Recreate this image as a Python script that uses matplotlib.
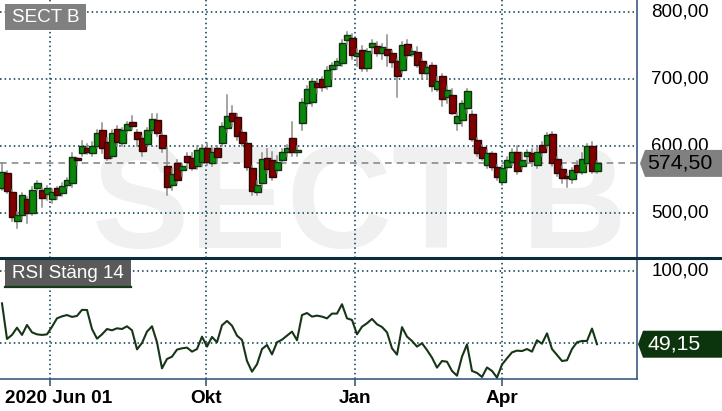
import matplotlib
matplotlib.use("Agg")
import matplotlib.pyplot as plt
from matplotlib.patches import Rectangle, Polygon
from matplotlib.lines import Line2D
from matplotlib.transforms import IdentityTransform, ScaledTranslation, blended_transform_factory

plt.rcParams["font.family"] = ["Liberation Sans", "DejaVu Sans"]

# kursdata (läst ur bilden)
opens = [538, 560, 532, 488, 497, 521, 500, 538, 535, 529, 521, 538, 530, 542, 545, 582, 590, 597, 590, 600,
         624, 606, 585, 626, 605, 624, 637, 621, 612, 604, 624, 640, 617, 571, 542, 575, 564, 586, 583, 571,
         577, 598, 575, 597, 605, 627, 650, 644, 621, 605, 568, 532, 545, 583, 580, 565, 580, 591, 613, 591,
         635, 664, 666, 694, 700, 690, 715, 721, 725, 758, 761, 735, 744, 717, 748, 750, 740, 745, 739, 727,
         714, 752, 738, 741, 727, 709, 721, 686, 705, 673, 677, 635, 639, 657, 648, 609, 599, 572, 590, 569,
         546, 569, 577, 592, 570, 585, 590, 572, 602, 602, 619, 581, 566, 555, 551, 572, 562, 575, 601, 563]
closes = [561, 533, 495, 498, 528, 500, 535, 545, 523, 538, 532, 528, 541, 550, 584, 580, 600, 591, 600, 620,
          597, 583, 620, 606, 624, 633, 630, 611, 593, 624, 641, 620, 597, 540, 558, 550, 571, 577, 568, 594,
          598, 577, 592, 584, 631, 645, 638, 615, 605, 569, 533, 542, 581, 566, 554, 577, 591, 598, 591, 595,
          666, 685, 697, 689, 688, 714, 721, 727, 754, 766, 736, 739, 717, 742, 754, 740, 748, 737, 726, 705,
          751, 736, 742, 721, 709, 719, 690, 697, 671, 684, 650, 646, 665, 683, 611, 590, 583, 590, 569, 554,
          568, 580, 592, 563, 580, 591, 578, 592, 592, 617, 575, 560, 552, 553, 564, 562, 581, 601, 563, 574.5]
highs = [575, 563, 535, 502, 531, 525, 540, 548, 538, 541, 536, 540, 545, 553, 590, 583, 608, 603, 606, 624,
         635, 612, 625, 630, 628, 636, 646, 625, 615, 628, 648, 648, 620, 597, 566, 580, 574, 590, 590, 600,
         602, 605, 598, 600, 635, 676, 660, 648, 625, 607, 570, 548, 590, 596, 592, 585, 596, 602, 636, 600,
         670, 690, 700, 698, 704, 718, 725, 730, 758, 770, 768, 746, 750, 746, 758, 755, 752, 766, 742, 730,
         755, 758, 745, 748, 730, 722, 725, 704, 708, 690, 685, 650, 668, 686, 652, 612, 602, 594, 592, 572,
         571, 584, 596, 600, 590, 594, 596, 597, 606, 620, 621, 584, 570, 558, 568, 578, 590, 604, 606, 578]
lows = [535, 530, 488, 478, 492, 485, 497, 535, 510, 520, 515, 522, 526, 538, 540, 572, 585, 588, 585, 597,
        590, 580, 582, 600, 600, 620, 626, 600, 585, 600, 620, 615, 592, 528, 535, 545, 556, 568, 565, 566,
        570, 572, 570, 575, 600, 622, 630, 610, 600, 565, 528, 528, 540, 560, 550, 560, 576, 586, 585, 585,
        624, 660, 660, 680, 682, 686, 700, 716, 720, 752, 730, 720, 712, 712, 740, 735, 730, 720, 718, 673,
        710, 732, 735, 718, 700, 700, 683, 682, 660, 665, 648, 625, 630, 650, 608, 585, 580, 568, 565, 550,
        543, 565, 572, 558, 566, 575, 570, 568, 585, 598, 570, 555, 545, 540, 545, 558, 558, 572, 560, 560]
rsi = [77.5, 52.8, 55.6, 60.6, 55.6, 62.5, 57.4, 56.0, 55.6, 56.0, 61.3, 67.1, 68.5, 69.4, 68.1, 68.8, 73.0, 72.9,
       59.7, 53.0, 56.0, 59.7, 58.8, 60.2, 59.7, 61.6, 58.8, 45.6, 50.0, 57.9, 61.6, 50.5, 32.4, 38.9, 40.5, 45.4,
       46.3, 46.8, 44.0, 45.8, 54.4, 47.5, 54.2, 50.5, 62.3, 65.3, 62.0, 55.1, 52.1, 37.5, 30.1, 35.2, 45.8, 48.6,
       42.1, 50.5, 52.3, 55.1, 57.9, 51.9, 69.4, 70.8, 68.3, 69.0, 68.3, 67.1, 70.4, 70.4, 76.9, 67.1, 66.0, 56.0,
       61.3, 63.7, 66.7, 63.0, 61.1, 57.4, 46.3, 41.9, 61.0, 54.4, 51.4, 47.5, 49.8, 45.1, 39.8, 32.9, 37.5, 37.0,
       30.6, 27.3, 40.5, 49.0, 30.6, 29.2, 26.4, 33.0, 30.6, 26.0, 35.0, 39.4, 43.5, 44.7, 44.4, 45.8, 44.0, 51.9,
       49.5, 56.7, 45.8, 41.7, 37.5, 38.0, 45.8, 50.5, 51.4, 51.4, 60.0, 49.15]

date_ticks = [9.66, 40.86, 70.66, 100.06]
date_labels = ["2020 Jun 01", "Okt", "Jan", "Apr"]
price_levels = [500, 600, 700, 800]
rsi_levels = [50, 100]
last_price = closes[-1]
last_rsi = rsi[-1]

W, H = 722, 411
fig = plt.figure(figsize=(W / 100, H / 100), dpi=100)
fig.patch.set_facecolor("white")

ax = fig.add_axes([0, 1 - 258 / H, 637 / W, 258 / H])
ax2 = fig.add_axes([0, 1 - 379 / H, 637 / W, 121 / H])

grid_kw = dict(color="#00384d", lw=1.1, ls=(0, (1, 2)), zorder=1)
spine_col = "#3a5a80"

for a in (ax, ax2):
    a.set_xlim(-0.4, 127)
    for t in date_ticks:
        a.axvline(t, **grid_kw)
    for s in ("left", "top"):
        a.spines[s].set_visible(False)
    a.spines["right"].set_color(spine_col)
    a.spines["right"].set_linewidth(1.2)
    a.set_yticks([])

# pris
ax.set_ylim(433.3, 818.4)
ax.spines["bottom"].set_visible(False)
ax.set_xticks([])
for v in price_levels:
    ax.axhline(v, **grid_kw)
ax.axhline(last_price, color="#8a8a8a", lw=1.2, ls=(0, (4, 3)), zorder=1.5)

ax.text(359, H - 248, "SECT B", transform=IdentityTransform(), fontsize=105, fontweight="bold",
        color="#f0f0f0", ha="center", va="baseline", zorder=0.5)

bw = 1.4
for i, (o, h, l, c) in enumerate(zip(opens, highs, lows, closes)):
    up = c >= o
    ax.add_line(Line2D([i, i], [l, h], color="#8c8c8c", lw=1.1, zorder=3))
    ax.add_patch(Rectangle((i - bw / 2, min(o, c)), bw, max(abs(c - o), 1.0),
                           facecolor="#0a880a" if up else "#800000",
                           edgecolor="#123012" if up else "#2e0606", lw=1.0, zorder=3))

bl = blended_transform_factory(ax.transAxes, ax.transData)
for v in price_levels:
    ax.text(680 / 637, v, f"{v:.2f}".replace(".", ","), transform=bl, ha="center", va="center",
            fontsize=13.5, clip_on=False)

# RSI
ax2.set_ylim(25.0, 109.0)
for v in rsi_levels:
    ax2.axhline(v, **grid_kw)
ax2.plot(range(len(rsi)), rsi, color="#173517", lw=1.5, zorder=3)
bl2 = blended_transform_factory(ax2.transAxes, ax2.transData)
ax2.text(680 / 637, 100, "100,00", transform=bl2, ha="center", va="center", fontsize=13.5, clip_on=False)

ax2.spines["bottom"].set_color(spine_col)
ax2.spines["bottom"].set_linewidth(1.2)
ax2.set_xticks(date_ticks, date_labels)
ax2.tick_params(axis="x", direction="out", length=5, width=1.2, color=spine_col, pad=3, labelsize=13.7)
for lbl in ax2.get_xticklabels():
    lbl.set_fontweight("bold")
first = ax2.get_xticklabels()[0]
first.set_horizontalalignment("left")
first.set_transform(first.get_transform() + ScaledTranslation(-0.45, 0, fig.dpi_scale_trans))

# skiljelinje mellan panelerna
fig.add_artist(Line2D([0, 1], [1 - 258 / H] * 2, color="#0c2c3c", lw=2.2))

# etiketter uppe till vänster
fig.add_artist(Rectangle((5, H - 30), 81, 26, transform=IdentityTransform(), fc="#808080", ec="none"))
fig.text(45.5 / W, 1 - 17.5 / H, "SECT B", color="white", fontsize=13.6, ha="center", va="center")
fig.add_artist(Rectangle((5, H - 288), 126, 28, transform=IdentityTransform(), fc="#5a5a5a", ec="none"))
fig.add_artist(Line2D([5, 131], [H - 287, H - 287], transform=IdentityTransform(), color="#163a16", lw=1.6))
fig.text(68 / W, 1 - 273.5 / H, "RSI Stäng 14", color="white", fontsize=13.6, ha="center", va="center")

# värdebrickor till höger
yp = ax.transData.transform((0, last_price))[1]
fig.add_artist(Polygon([(640, yp), (645, yp + 13.5), (722, yp + 13.5), (722, yp - 13.5), (645, yp - 13.5)],
                       closed=True, transform=IdentityTransform(), fc="#808080", ec="none"))
fig.text(680 / W, yp / H, f"{last_price:.2f}".replace(".", ","), color="black", fontsize=15.3,
         ha="center", va="center")

yr = ax2.transData.transform((0, last_rsi))[1]
fig.add_artist(Polygon([(638, yr), (643, yr + 13.5), (722, yr + 13.5), (722, yr - 13.5), (643, yr - 13.5)],
                       closed=True, transform=IdentityTransform(), fc="#0d350d", ec="none"))
fig.text(674 / W, yr / H, f"{last_rsi:.2f}".replace(".", ","), color="white", fontsize=15.3,
         ha="center", va="center")

fig.savefig("out.png", dpi=100)
